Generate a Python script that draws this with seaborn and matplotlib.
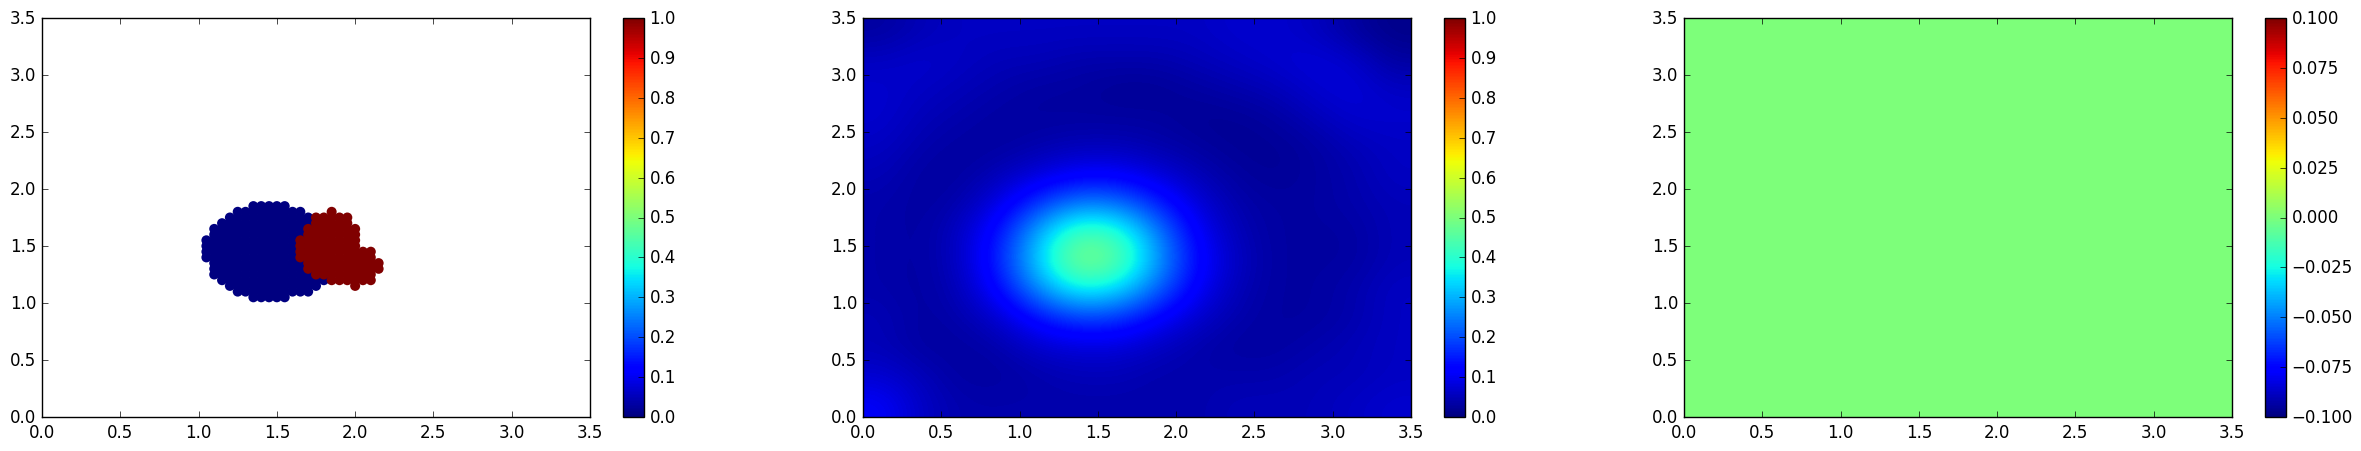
import numpy as np
import pandas as pd
import matplotlib
matplotlib.use("Agg")
import matplotlib.pyplot as plt
from matplotlib.cm import ScalarMappable
from matplotlib.colors import Normalize
import seaborn as sns

# rows of the grid that hold dots: y, first x, last x
blue_y = [1.85, 1.80, 1.75, 1.70, 1.65, 1.60, 1.55, 1.50, 1.45, 1.40, 1.35, 1.30, 1.25, 1.20, 1.15, 1.10, 1.05]
blue_x0 = [1.35, 1.25, 1.20, 1.15, 1.10, 1.10, 1.05, 1.05, 1.05, 1.05, 1.10, 1.10, 1.10, 1.15, 1.20, 1.25, 1.35]
blue_x1 = [1.55, 1.65, 1.70, 1.70, 1.75, 1.75, 1.75, 1.75, 1.75, 1.75, 1.80, 1.80, 1.80, 1.80, 1.75, 1.70, 1.55]

red_y = [1.80, 1.75, 1.70, 1.65, 1.60, 1.55, 1.50, 1.45, 1.40, 1.35, 1.30, 1.25, 1.20, 1.15]
red_x0 = [1.85, 1.75, 1.75, 1.70, 1.70, 1.65, 1.65, 1.65, 1.65, 1.70, 1.70, 1.75, 1.85, 2.00]
red_x1 = [1.85, 1.95, 1.95, 2.00, 2.00, 2.00, 2.00, 2.10, 2.10, 2.15, 2.15, 2.10, 2.10, 2.00]

field = [
    [.03, .05, .06, .06, .06, .06, .06, .06, .06, .07, .07, .06, .03, .01],
    [.06, .07, .06, .05, .05, .04, .04, .04, .05, .06, .07, .08, .07, .03],
    [.07, .06, .05, .04, .03, .03, .02, .02, .03, .04, .05, .07, .08, .06],
    [.07, .05, .04, .03, .03, .03, .03, .03, .02, .02, .03, .05, .07, .07],
    [.06, .04, .03, .03, .04, .05, .05, .04, .03, .02, .02, .03, .05, .06],
    [.05, .03, .03, .05, .08, .11, .11, .08, .05, .03, .02, .03, .04, .06],
    [.04, .03, .04, .09, .18, .25, .24, .16, .08, .04, .03, .03, .04, .05],
    [.04, .03, .06, .14, .30, .44, .41, .26, .11, .05, .03, .03, .03, .05],
    [.04, .03, .06, .16, .34, .51, .47, .29, .13, .06, .03, .03, .03, .05],
    [.04, .03, .05, .13, .27, .38, .35, .23, .11, .05, .03, .03, .04, .06],
    [.05, .03, .04, .07, .14, .19, .18, .12, .07, .04, .03, .03, .04, .06],
    [.05, .03, .03, .04, .07, .08, .08, .06, .04, .03, .03, .04, .05, .06],
    [.07, .05, .03, .03, .04, .05, .05, .04, .04, .04, .04, .05, .05, .06],
    [.11, .06, .04, .04, .04, .04, .04, .04, .04, .05, .05, .05, .06, .07],
]

axis_ticks = [0.0, 0.5, 1.0, 1.5, 2.0, 2.5, 3.0, 3.5]
unit_ticks = [0.0, 0.1, 0.2, 0.3, 0.4, 0.5, 0.6, 0.7, 0.8, 0.9, 1.0]
diff_ticks = [-0.100, -0.075, -0.050, -0.025, 0.000, 0.025, 0.050, 0.075, 0.100]

plt.style.use("classic")
plt.rcParams["font.size"] = 12
W, H = 2361, 452


def box(left, right, top=19, bottom=418):
    return [left / W, 1 - bottom / H, (right - left) / W, (bottom - top) / H]


def rows_to_frame(ys, x0s, x1s, label):
    out = []
    for y, a, b in zip(ys, x0s, x1s):
        for x in np.arange(a, b + 0.01, 0.05):
            out.append({"x": x, "y": y, "label": label})
    return out


fig = plt.figure(figsize=(W / 100, H / 100), dpi=100, facecolor="white")
jet = plt.get_cmap("jet")

# left: classes as dots
ax1 = fig.add_axes(box(42, 590))
cax1 = fig.add_axes(box(623, 644))
dots = pd.DataFrame(rows_to_frame(blue_y, blue_x0, blue_x1, 0) + rows_to_frame(red_y, red_x0, red_x1, 1))
sns.scatterplot(data=dots, x="x", y="y", hue="label", palette={0: jet(0.0), 1: jet(1.0)},
                s=52, linewidth=0, edgecolor="none", legend=False, ax=ax1)
ax1.set_xlabel("")
ax1.set_ylabel("")
fig.colorbar(ScalarMappable(Normalize(0, 1), jet), cax=cax1, ticks=unit_ticks)

# middle: smooth field
ax2 = fig.add_axes(box(863, 1411))
cax2 = fig.add_axes(box(1444, 1465))
im = ax2.imshow(field, cmap="jet", vmin=0, vmax=1, extent=[0, 3.5, 0, 3.5], aspect="auto", interpolation="bicubic")
fig.colorbar(im, cax=cax2, ticks=unit_ticks)

for ax in (ax1, ax2):
    ax.set_xlim(0, 3.5)
    ax.set_ylim(0, 3.5)
    ax.set_xticks(axis_ticks)
    ax.set_yticks(axis_ticks)

# right: difference, all zero
ax3 = fig.add_axes(box(1684, 2232))
cax3 = fig.add_axes(box(2265, 2286))
sns.heatmap(np.zeros((14, 14)), cmap="jet", vmin=-0.1, vmax=0.1, ax=ax3, cbar_ax=cax3, cbar_kws={"ticks": diff_ticks})
ax3.invert_yaxis()
ax3.set_xticks(np.array(axis_ticks) * 4)
ax3.set_yticks(np.array(axis_ticks) * 4)
ax3.set_xticklabels([f"{t:.1f}" for t in axis_ticks], rotation=0)
ax3.set_yticklabels([f"{t:.1f}" for t in axis_ticks], rotation=0)
cax3.set_yticklabels([f"{t:.3f}".replace("-", "\u2212") for t in diff_ticks])
for spine in ax3.spines.values():
    spine.set_visible(True)
ax3.collections[0].colorbar.outline.set_linewidth(1.0)

fig.savefig("out.png", dpi=100, facecolor="white")
